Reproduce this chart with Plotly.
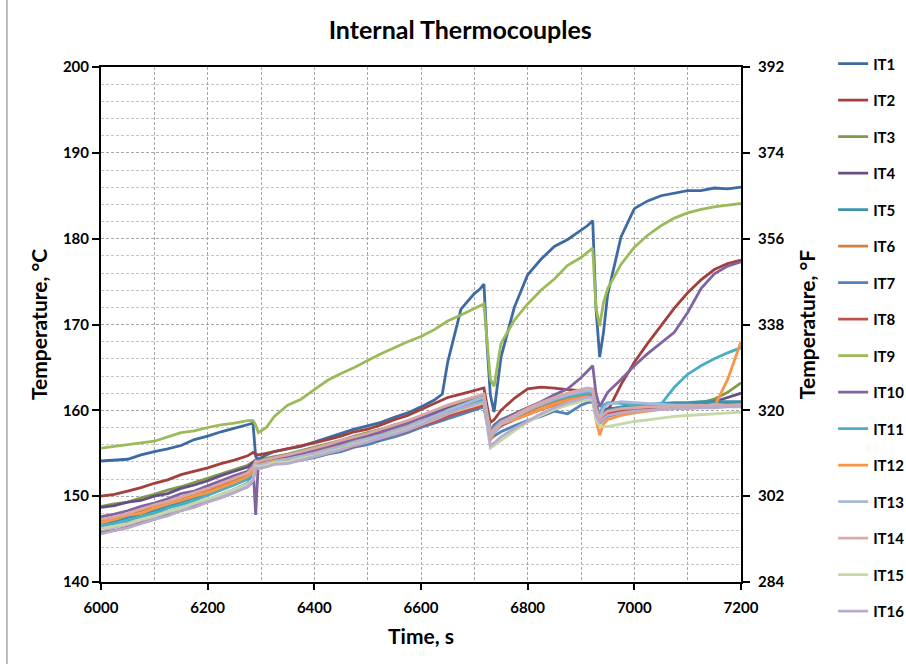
import plotly.graph_objects as go

# --- dados (tempo em s, temperatura em C) ---
tempo = [6000, 6025, 6050, 6075, 6100, 6125, 6150, 6175, 6200, 6225, 6250, 6275, 6285,
         6290, 6295, 6310, 6325,
         6350, 6375, 6400, 6425, 6450, 6475, 6500, 6525, 6550, 6575, 6600, 6625,
         6640, 6650, 6675, 6700,
         6710, 6718, 6724, 6730, 6737,
         6750, 6775, 6800, 6825, 6850, 6875, 6900,
         6912, 6922, 6928, 6935, 6942,
         6950,
         6975, 7000, 7025, 7050, 7075, 7100, 7125, 7150, 7175, 7200]

it1 = [154.1, 154.2, 154.3, 154.8, 155.2, 155.5, 155.9, 156.6, 157.0, 157.5, 157.9, 158.3, 158.5,
       154.6, 154.3, 154.8, 155.2,
       155.5, 155.8, 156.3, 156.8, 157.3, 157.8, 158.2, 158.6, 159.2, 159.7, 160.4, 161.2,
       161.9, 165.6, 171.8, 173.6,
       174.1, 174.7, 167.5, 161.8, 159.8,
       166.2, 172.0, 175.8, 177.6, 179.1, 179.9, 181.0,
       181.5, 182.1, 172.0, 166.2, 169.0,
       173.5,
       180.2, 183.5, 184.4, 185.0, 185.3, 185.6, 185.6, 185.9, 185.8, 186.0]

it2 = [150.0, 150.2, 150.6, 151.0, 151.5, 151.9, 152.5, 152.9, 153.3, 153.8, 154.2, 154.7, 155.1,
       154.9, 154.8, 155.0, 155.2,
       155.5, 155.9, 156.2, 156.6, 157.0, 157.5, 157.8, 158.3, 158.9, 159.4, 160.1, 160.8,
       161.3, 161.5, 161.9, 162.3,
       162.5, 162.6, 160.5, 158.6, 158.9,
       160.0, 161.4, 162.5, 162.7, 162.6, 162.4, 162.3,
       162.1, 161.8, 160.2, 159.2, 159.4,
       159.9,
       163.0, 165.6, 167.8, 169.8, 171.9, 173.7, 175.2, 176.4, 177.1, 177.5]

it3 = [148.8, 149.1, 149.3, 149.8, 150.2, 150.7, 151.1, 151.6, 152.1, 152.6, 153.1, 153.6, 154.0,
       154.2, 154.1, 154.4, 154.6,
       154.9, 155.3, 155.7, 156.1, 156.5, 157.0, 157.4, 157.8, 158.3, 158.7, 159.3, 159.9,
       160.2, 160.4, 160.9, 161.4,
       161.6, 161.7, 159.8, 157.8, 157.9,
       158.8, 159.6, 160.3, 160.9, 161.4, 161.8, 162.1,
       162.2, 162.1, 160.6, 159.6, 159.8,
       160.0,
       160.1, 160.3, 160.4, 160.5, 160.6, 160.7, 160.9, 161.3, 162.1, 163.2]

it4 = [148.7, 148.9, 149.3, 149.5, 150.0, 150.3, 150.9, 151.3, 151.8, 152.4, 152.9, 153.4, 153.9,
       154.2, 154.0, 154.3, 154.5,
       154.7, 155.1, 155.6, 155.9, 156.4, 156.8, 157.2, 157.7, 158.1, 158.6, 159.2, 159.7,
       160.0, 160.2, 160.7, 161.2,
       161.4, 161.5, 159.4, 157.6, 157.9,
       158.7, 159.5, 160.2, 160.8, 161.3, 161.7, 162.0,
       162.1, 162.0, 160.5, 159.6, 160.0,
       160.2,
       160.3, 160.4, 160.4, 160.5, 160.6, 160.6, 160.8, 161.0, 161.5, 162.0]

it5 = [146.8, 147.1, 147.5, 147.9, 148.3, 148.8, 149.3, 149.8, 150.3, 150.8, 151.4, 152.0, 152.6,
       153.8, 153.7, 153.9, 154.1,
       154.3, 154.7, 155.0, 155.4, 155.9, 156.3, 156.7, 157.2, 157.6, 158.1, 158.7, 159.2,
       159.6, 159.9, 160.3, 160.8,
       161.0, 161.1, 159.0, 157.3, 157.7,
       158.5, 159.2, 159.9, 160.5, 161.0, 161.4, 161.8,
       161.9, 161.8, 159.8, 159.0, 159.6,
       160.0,
       160.4, 160.6, 160.7, 160.8, 160.9, 160.9, 161.0, 161.0, 161.0, 161.0]

it6 = [147.2, 147.5, 147.9, 148.3, 148.7, 149.2, 149.7, 150.1, 150.7, 151.2, 151.9, 152.5, 153.1,
       153.9, 153.8, 154.1, 154.3,
       154.5, 154.8, 155.2, 155.6, 156.0, 156.4, 156.8, 157.2, 157.7, 158.2, 158.7, 159.3,
       159.6, 159.8, 160.3, 160.8,
       161.0, 161.1, 159.0, 157.2, 157.6,
       158.3, 159.1, 159.8, 160.5, 161.0, 161.4, 161.7,
       161.8, 161.8, 160.0, 158.6, 159.0,
       159.4,
       159.8, 160.0, 160.2, 160.3, 160.4, 160.4, 160.5, 160.5, 160.6, 160.6]

it7 = [146.2, 146.4, 146.9, 147.2, 147.7, 148.2, 148.6, 149.2, 149.6, 150.2, 150.8, 151.5, 152.2,
       153.6, 153.4, 153.6, 153.8,
       153.9, 154.2, 154.5, 154.9, 155.2, 155.7, 156.0, 156.5, 156.9, 157.4, 158.0, 158.5,
       158.8, 159.0, 159.5, 160.0,
       160.2, 160.4, 158.4, 156.6, 157.0,
       157.5, 158.2, 158.8, 159.3, 159.9, 159.6, 160.6,
       160.9, 161.0, 159.4, 158.5, 158.9,
       159.3,
       159.7, 159.9, 160.0, 160.2, 160.3, 160.4, 160.4, 160.5, 160.5, 160.6]

it8 = [145.8, 146.0, 146.4, 146.9, 147.3, 147.9, 148.3, 148.8, 149.4, 149.9, 150.5, 151.1, 151.7,
       153.4, 153.3, 153.5, 153.8,
       153.9, 154.3, 154.6, 155.0, 155.4, 155.8, 156.3, 156.7, 157.2, 157.6, 158.2, 158.7,
       159.0, 159.3, 159.8, 160.3,
       160.5, 160.6, 158.6, 157.0, 157.4,
       158.2, 158.9, 159.5, 160.1, 160.6, 161.0, 161.4,
       161.6, 161.6, 159.6, 158.8, 159.2,
       159.6,
       160.0, 160.2, 160.3, 160.4, 160.5, 160.5, 160.6, 160.6, 160.7, 160.7]

it9 = [155.6, 155.8, 156.0, 156.2, 156.4, 156.9, 157.4, 157.6, 158.0, 158.3, 158.5, 158.8, 158.8,
       158.3, 157.4, 158.0, 159.3,
       160.6, 161.3, 162.4, 163.5, 164.3, 165.0, 165.8, 166.6, 167.3, 168.0, 168.6, 169.4,
       170.0, 170.4, 171.1, 171.8,
       172.1, 172.4, 168.0, 163.6, 162.8,
       167.8, 170.5, 172.4, 174.0, 175.3, 176.9, 177.8,
       178.4, 178.9, 172.0, 169.8, 172.5,
       174.2,
       177.0, 179.0, 180.4, 181.5, 182.4, 183.0, 183.4, 183.7, 183.9, 184.1]

it10 = [147.6, 147.9, 148.3, 148.8, 149.2, 149.7, 150.3, 150.6, 151.2, 151.8, 152.4, 152.9, 153.6,
        147.8, 153.9, 154.2, 154.4,
        154.6, 154.9, 155.4, 155.8, 156.2, 156.7, 157.0, 157.5, 158.0, 158.5, 159.1, 159.6,
        159.9, 160.1, 160.6, 161.1,
        161.3, 161.4, 159.2, 157.6, 158.3,
        158.9, 159.6, 160.3, 161.0, 161.8, 162.5, 163.8,
        164.6, 165.2, 162.0, 160.4, 161.2,
        162.1,
        163.6, 165.2, 166.6, 167.9, 169.1, 171.4, 174.2, 175.9, 176.8, 177.3]

it11 = [146.5, 146.8, 147.2, 147.6, 148.0, 148.6, 149.0, 149.5, 150.1, 150.7, 151.3, 152.0, 152.8,
        153.6, 153.5, 153.8, 154.0,
        154.2, 154.5, 154.9, 155.3, 155.7, 156.1, 156.6, 157.0, 157.5, 158.0, 158.6, 159.1,
        159.5, 159.8, 160.3, 160.9,
        161.1, 161.2, 159.2, 157.6, 158.0,
        158.7, 159.4, 160.1, 160.7, 161.2, 161.6, 161.9,
        162.0, 162.0, 160.2, 159.6, 160.6,
        160.9,
        160.8, 160.6, 160.6, 160.7, 162.7, 164.2, 165.2, 166.0, 166.7, 167.3]

it12 = [146.9, 147.3, 147.8, 148.0, 148.6, 149.1, 149.5, 150.0, 150.4, 151.0, 151.6, 152.3, 152.9,
        153.8, 153.6, 153.9, 154.1,
        154.3, 154.6, 155.0, 155.4, 155.7, 156.2, 156.5, 157.0, 157.4, 157.9, 158.5, 159.1,
        159.4, 159.6, 160.1, 160.6,
        160.8, 160.9, 158.6, 156.5, 157.4,
        158.4, 158.9, 159.5, 160.1, 160.7, 161.2, 161.5,
        161.6, 161.5, 159.0, 157.1, 158.4,
        158.9,
        159.4, 159.7, 159.9, 160.1, 160.2, 160.3, 160.4, 160.4, 163.6, 168.0]

it13 = [146.0, 146.4, 146.7, 147.2, 147.6, 148.1, 148.5, 149.1, 149.6, 150.1, 150.7, 151.4, 152.0,
        153.7, 153.6, 153.8, 154.0,
        154.3, 154.6, 155.0, 155.4, 155.8, 156.3, 156.7, 157.1, 157.6, 158.1, 158.7, 159.3,
        159.7, 160.0, 160.6, 161.2,
        161.4, 161.5, 159.0, 157.0, 157.4,
        158.4, 159.2, 160.0, 160.7, 161.3, 161.8, 162.1,
        162.3, 162.2, 160.0, 159.1, 160.2,
        160.7,
        161.0, 160.9, 160.8, 160.7, 160.6, 160.6, 160.6, 160.5, 160.5, 160.5]

it14 = [147.3, 147.6, 148.0, 148.5, 149.0, 149.4, 149.9, 150.4, 150.9, 151.5, 152.1, 152.7, 153.4,
        154.1, 154.0, 154.3, 154.5,
        154.8, 155.2, 155.6, 156.0, 156.5, 156.9, 157.3, 157.8, 158.3, 158.8, 159.4, 160.0,
        160.3, 160.6, 161.1, 161.6,
        161.8, 161.9, 159.5, 157.4, 157.8,
        158.6, 159.4, 160.2, 160.9, 161.5, 162.0, 162.4,
        162.6, 162.5, 160.3, 159.0, 159.5,
        159.9,
        160.2, 160.3, 160.4, 160.4, 160.5, 160.5, 160.6, 160.6, 160.6, 160.7]

it15 = [146.2, 146.5, 146.8, 147.3, 147.7, 148.2, 148.6, 149.2, 149.7, 150.2, 150.8, 151.4, 152.0,
        153.5, 153.4, 153.6, 153.9,
        154.0, 154.4, 154.7, 155.1, 155.5, 156.0, 156.4, 156.8, 157.3, 157.8, 158.4, 158.9,
        159.3, 159.6, 160.1, 160.6,
        160.8, 160.9, 158.2, 155.6, 155.9,
        156.5, 157.6, 158.6, 159.4, 160.1, 160.6, 161.0,
        161.2, 161.2, 159.0, 158.2, 158.1,
        158.1,
        158.4, 158.7, 158.9, 159.1, 159.3, 159.4, 159.5, 159.6, 159.7, 159.8]

it16 = [145.6, 146.0, 146.3, 146.8, 147.3, 147.7, 148.3, 148.7, 149.3, 149.8, 150.4, 151.1, 151.8,
        153.3, 153.2, 153.4, 153.7,
        153.8, 154.2, 154.6, 155.0, 155.4, 155.9, 156.3, 156.8, 157.2, 157.7, 158.3, 158.9,
        159.3, 159.6, 160.2, 160.7,
        160.9, 161.0, 158.4, 155.9, 156.2,
        156.9, 157.9, 158.8, 159.6, 160.3, 160.9, 161.3,
        161.5, 161.5, 159.4, 158.6, 159.0,
        159.4,
        159.7, 159.9, 160.0, 160.1, 160.2, 160.2, 160.3, 160.3, 160.4, 160.4]

nomes = ['IT1', 'IT2', 'IT3', 'IT4', 'IT5', 'IT6', 'IT7', 'IT8',
         'IT9', 'IT10', 'IT11', 'IT12', 'IT13', 'IT14', 'IT15', 'IT16']
series = [it1, it2, it3, it4, it5, it6, it7, it8,
          it9, it10, it11, it12, it13, it14, it15, it16]
cores = ['#3D6AA3', '#A3403D', '#7E9B49', '#664F87', '#3D93A9', '#D2803F', '#4F81BD', '#C0504D',
         '#9BBB59', '#8064A2', '#4BACC6', '#F79646', '#A7B9D9', '#D9A7A6', '#C6D8A8', '#B8ABCB']

ticks_c = [140, 150, 160, 170, 180, 190, 200]
ticks_f = [284, 302, 320, 338, 356, 374, 392]
ticks_t = [6000, 6200, 6400, 6600, 6800, 7000, 7200]

FONTE = 'Lato, Liberation Sans, sans-serif'
GRADE = '#a6a6a6'
TRACO = '3px,2px'

fig = go.Figure()
for nome, y, cor in zip(nomes, series, cores):
    fig.add_trace(go.Scatter(x=tempo, y=y, name=nome, mode='lines',
                             line=dict(color=cor, width=2.8),
                             legendgroup=nome))

# eixo em Fahrenheit: mesma serie IT1 convertida, invisivel, so para ativar o eixo direito
fig.add_trace(go.Scatter(x=tempo, y=[c * 9 / 5 + 32 for c in it1], yaxis='y2',
                         mode='lines', opacity=0, showlegend=False, hoverinfo='skip'))

fig.update_layout(
    width=906, height=664,
    paper_bgcolor='white', plot_bgcolor='white',
    margin=dict(l=101, r=165, t=67, b=82, autoexpand=False),
    font=dict(family=FONTE, color='black', size=14),
    title=dict(text='<b>Internal Thermocouples</b>', x=0.508, xanchor='center',
               y=0.955, yanchor='middle', font=dict(size=25)),
    showlegend=True,
    legend=dict(x=1.144, y=1.038, xanchor='left', yanchor='top',
                font=dict(size=15, weight='bold'), tracegroupgap=14,
                maxheight=660, bgcolor='rgba(0,0,0,0)'),
    shapes=[dict(type='line', xref='paper', yref='paper', x0=-0.147, x1=-0.147,
                 y0=-0.16, y1=1.14, line=dict(color='#a6a6a6', width=1.5))],
)

fig.update_xaxes(
    range=[6000, 7200], tickvals=ticks_t, ticks='outside', ticklen=6, tickwidth=2,
    tickcolor='black', showline=True, linecolor='black', linewidth=2, mirror=True,
    showgrid=True, gridcolor=GRADE, griddash=TRACO, gridwidth=1,
    minor=dict(dtick=100, tick0=6000, showgrid=True, gridcolor=GRADE, griddash=TRACO, gridwidth=1),
    tickfont=dict(size=15, weight='bold'), ticklabelstandoff=5,
    title=dict(text='<b>Time, s</b>', font=dict(size=21), standoff=14),
    zeroline=False,
)

fig.update_yaxes(
    range=[140, 200], tickvals=ticks_c, ticks='outside', ticklen=7, tickwidth=2,
    tickcolor='black', showline=True, linecolor='black', linewidth=2,
    showgrid=True, gridcolor=GRADE, griddash=TRACO, gridwidth=1,
    minor=dict(dtick=2, tick0=140, showgrid=True, gridcolor='#c4c4c4', griddash=TRACO, gridwidth=1),
    tickfont=dict(size=15, weight='bold'),
    title=dict(text='<b>Temperature, °C</b>', font=dict(size=21), standoff=10),
    zeroline=False,
)

fig.update_layout(yaxis2=dict(
    overlaying='y', side='right', range=[284, 392], tickvals=ticks_f,
    ticks='outside', ticklen=7, tickwidth=2, tickcolor='black',
    showline=True, linecolor='black', linewidth=2, showgrid=False, zeroline=False,
    tickfont=dict(size=15, weight='bold', family=FONTE), ticklabelstandoff=5,
    title=dict(text='<b>Temperature, °F</b>', font=dict(size=21, family=FONTE), standoff=17),
))

# sem margem no body para o grafico ocupar a janela inteira; sem barra de ferramentas
fig.write_html("out.html", config={'displayModeBar': False},
               post_script="document.body.style.margin='0px';")
